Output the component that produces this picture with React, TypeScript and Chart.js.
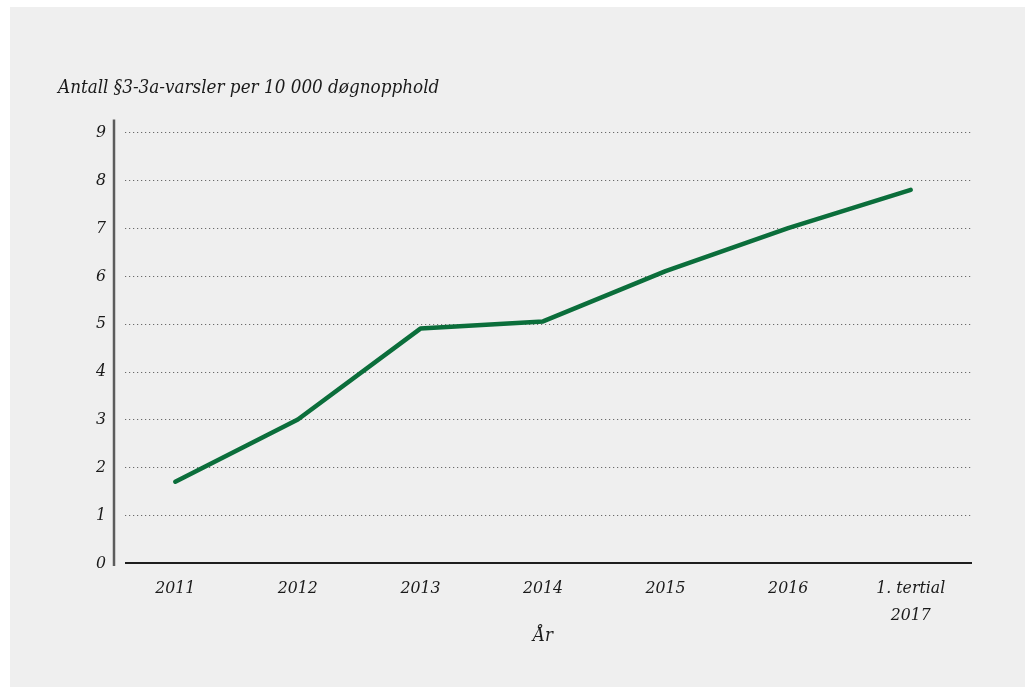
import React, { useEffect, useRef } from 'react';
import { Chart, registerables } from 'chart.js';

Chart.register(...registerables);

const categories: (string | string[])[] = ['2011', '2012', '2013', '2014', '2015', '2016', ['1. tertial', '2017']];
const values = [1.7, 3.0, 4.9, 5.05, 6.1, 7.0, 7.8];
const yMin = 0;
const yMax = 9;
const chartTitle = 'Antall §3-3a-varsler per 10 000 døgnopphold';
const xTitle = 'År';

const FONT = '"DejaVu Serif Condensed", "DejaVu Serif", serif';

const axesPlugin = {
  id: 'customAxes',
  beforeDatasetsDraw(chart: any) {
    const { ctx, chartArea, scales } = chart;
    const y = scales.y;
    const x0 = chartArea.left + 11;
    const p0 = y.getPixelForValue(yMin);
    ctx.save();
    ctx.strokeStyle = '#6a6a6a';
    ctx.lineWidth = 1.2;
    ctx.setLineDash([1.2, 2.8]);
    y.ticks.forEach((t: any) => {
      if (t.value === yMin) return;
      const py = Math.round(y.getPixelForValue(t.value)) + 0.5;
      ctx.beginPath();
      ctx.moveTo(x0, py);
      ctx.lineTo(chartArea.right, py);
      ctx.stroke();
    });
    ctx.setLineDash([]);
    ctx.strokeStyle = '#1e1e1e';
    ctx.lineWidth = 2;
    ctx.beginPath();
    ctx.moveTo(x0, p0);
    ctx.lineTo(chartArea.right, p0);
    ctx.stroke();
    ctx.strokeStyle = '#5c5c5c';
    ctx.lineWidth = 2.5;
    ctx.beginPath();
    ctx.moveTo(chartArea.left, y.getPixelForValue(yMax) - 13);
    ctx.lineTo(chartArea.left, p0 + 3);
    ctx.stroke();
    ctx.restore();
  },
};

export default function App() {
  const ref = useRef<HTMLCanvasElement | null>(null);
  useEffect(() => {
    if (!ref.current) return;
    const chart = new Chart(ref.current, {
      type: 'line',
      data: {
        labels: categories,
        datasets: [
          {
            data: values,
            borderColor: '#0b6e3b',
            borderWidth: 4.5,
            pointRadius: 0,
            tension: 0,
            borderCapStyle: 'round',
            borderJoinStyle: 'round',
            fill: false,
          },
        ],
      },
      options: {
        animation: false,
        responsive: false,
        layout: { padding: { left: 48, top: 60, right: 53, bottom: 0 } },
        plugins: {
          legend: { display: false },
          tooltip: { enabled: false },
          title: {
            display: true,
            text: chartTitle,
            align: 'start',
            color: '#1a1a1a',
            font: { family: FONT, size: 18.7, style: 'italic', weight: 'normal', lineHeight: 1.2 },
            padding: { top: 10, bottom: 33 },
          },
        },
        scales: {
          x: {
            type: 'category',
            offset: true,
            grid: { display: false, drawTicks: false },
            border: { display: false },
            ticks: {
              color: '#1a1a1a',
              padding: 12,
              maxRotation: 0,
              autoSkip: false,
              font: { family: FONT, size: 17.5, style: 'italic', lineHeight: 1.55 },
            },
            title: {
              display: true,
              text: xTitle,
              color: '#1a1a1a',
              font: { family: FONT, size: 18.5, style: 'italic', lineHeight: 1.2 },
              padding: { top: 0, bottom: 40 },
            },
            afterFit: (scale: any) => {
              scale.height = 124;
            },
          },
          y: {
            min: yMin,
            max: yMax,
            grid: { display: false, drawTicks: false },
            border: { display: false },
            ticks: {
              stepSize: 1,
              color: '#1a1a1a',
              padding: 8,
              font: { family: FONT, size: 17.5, style: 'italic' },
            },
            afterFit: (scale: any) => {
              scale.width = 56;
            },
          },
        },
      },
      plugins: [axesPlugin],
    } as any);
    return () => chart.destroy();
  }, []);
  return (
    <div style={{ position: 'absolute', left: 10, top: 7, width: 1015, height: 680, background: '#efefef' }}>
      <canvas ref={ref} width={1015} height={680} style={{ display: 'block' }} />
    </div>
  );
}
